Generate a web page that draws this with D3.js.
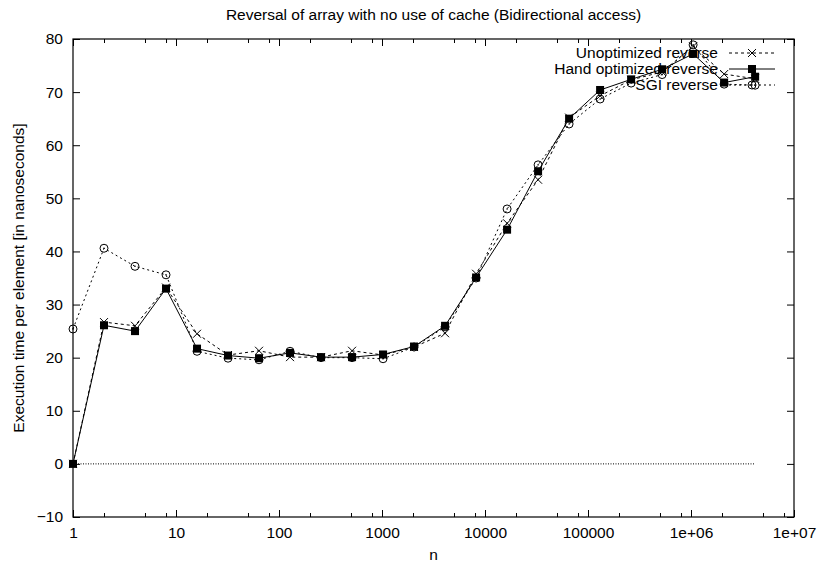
<!DOCTYPE html>
<html>
  <head>
    <title>reversal of array</title>
    <meta charset="utf-8" />
    <script src="https://d3js.org/d3.v7.min.js"></script>
    <style>
      body { margin: 0; background: #fff; }
      text { font-family: "Liberation Sans", Arial, sans-serif; font-size: 15.5px; fill: #000; }
    </style>
  </head>
  <body>
    <script>
      // n = 2^k, k = 0..22
      const exponents = d3.range(0, 23);
      const unoptimized = [0, 26.7, 26.0, 33.2, 24.5, 20.5, 21.3, 20.1, 20.1, 21.3, 20.5, 22.0, 24.6,
        35.8, 45.3, 53.5, 65.2, 69.3, 72.3, 73.8, 78.6, 73.4, 72.5];
      const handOptimized = [0, 26.1, 25.0, 33.0, 21.7, 20.4, 19.9, 20.9, 20.1, 20.1, 20.6, 22.1, 26.0,
        35.1, 44.1, 55.1, 65.0, 70.4, 72.4, 74.3, 77.2, 71.8, 72.9];
      const sgi = [25.4, 40.6, 37.2, 35.6, 21.2, 19.9, 19.6, 21.2, 20.0, 20.0, 19.8, 22.0, 25.8,
        35.0, 48.0, 56.3, 64.0, 68.7, 71.7, 73.3, 78.9, 71.5, 71.3];
      const seriesNames = ["Unoptimized reverse", "Hand optimized reverse", "SGI reverse"];
      const xTickValues = [1, 10, 100, 1000, 10000, 100000, 1e6, 1e7];
      const xTickLabels = ["1", "10", "100", "1000", "10000", "100000", "1e+06", "1e+07"];
      const yTickValues = [-10, 0, 10, 20, 30, 40, 50, 60, 70, 80];

      const width = 817, height = 567;
      const margin = { left: 73, right: 794, top: 39, bottom: 517 };

      const svg = d3.select("body").append("svg")
        .attr("width", width)
        .attr("height", height);
      svg.append("rect").attr("width", width).attr("height", height).attr("fill", "#fff");

      const x = d3.scaleLog().domain([1, 1e7]).range([margin.left, margin.right]);
      const y = d3.scaleLinear().domain([-10, 80]).range([margin.bottom, margin.top]);

      // minor tics at 2, 5, 8 of each decade (as gnuplot drew them)
      const minorX = [];
      xTickValues.slice(0, -1).forEach(d => [2, 5, 8].forEach(m => minorX.push(d * m)));

      function styleAxis(g) {
        g.select(".domain").remove();
        g.selectAll("line").attr("stroke", "#000").attr("stroke-width", 1);
        g.selectAll("text").attr("fill", "#000").attr("font-size", null).attr("font-family", null);
      }

      const fmt = d => xTickLabels[xTickValues.indexOf(d)];
      svg.append("g").attr("transform", `translate(0,${margin.bottom})`)
        .call(d3.axisBottom(x).tickValues(xTickValues).tickFormat(fmt).tickSize(-7).tickSizeOuter(0).tickPadding(10))
        .call(styleAxis);
      svg.append("g").attr("transform", `translate(0,${margin.bottom})`)
        .call(d3.axisBottom(x).tickValues(minorX).tickFormat("").tickSize(-4).tickSizeOuter(0))
        .call(styleAxis);
      svg.append("g").attr("transform", `translate(0,${margin.top})`)
        .call(d3.axisTop(x).tickValues(xTickValues).tickFormat("").tickSize(-7).tickSizeOuter(0))
        .call(styleAxis);
      svg.append("g").attr("transform", `translate(0,${margin.top})`)
        .call(d3.axisTop(x).tickValues(minorX).tickFormat("").tickSize(-4).tickSizeOuter(0))
        .call(styleAxis);
      svg.append("g").attr("transform", `translate(${margin.left},0)`)
        .call(d3.axisLeft(y).tickValues(yTickValues).tickSize(-7).tickSizeOuter(0).tickPadding(10))
        .call(styleAxis);
      svg.append("g").attr("transform", `translate(${margin.right},0)`)
        .call(d3.axisRight(y).tickValues(yTickValues).tickFormat("").tickSize(-7).tickSizeOuter(0))
        .call(styleAxis);

      svg.append("rect")
        .attr("x", margin.left).attr("y", margin.top)
        .attr("width", margin.right - margin.left).attr("height", margin.bottom - margin.top)
        .attr("fill", "none").attr("stroke", "#000").attr("stroke-width", 1.2);

      // dotted zero line over the measured range
      svg.append("line")
        .attr("x1", x(1)).attr("x2", x(2 ** 22))
        .attr("y1", y(0)).attr("y2", y(0))
        .attr("stroke", "#000").attr("stroke-width", 1)
        .attr("stroke-dasharray", "1,1.5");

      const series = [
        { name: seriesNames[0], values: unoptimized, dash: "3,3", mark: "cross" },
        { name: seriesNames[1], values: handOptimized, dash: null, mark: "square" },
        { name: seriesNames[2], values: sgi, dash: "2,3", mark: "circle" }
      ];

      const line = d3.line()
        .x((d, i) => x(2 ** exponents[i]))
        .y(d => y(d));

      function drawMark(g, kind, cx, cy) {
        if (kind === "cross") {
          g.append("path")
            .attr("d", `M${cx - 4},${cy - 4}L${cx + 4},${cy + 4}M${cx - 4},${cy + 4}L${cx + 4},${cy - 4}`)
            .attr("stroke", "#000").attr("stroke-width", 1).attr("fill", "none");
        } else if (kind === "square") {
          g.append("rect")
            .attr("x", cx - 4).attr("y", cy - 4)
            .attr("width", 8).attr("height", 8)
            .attr("fill", "#000");
        } else {
          g.append("circle").attr("cx", cx).attr("cy", cy).attr("r", 4)
            .attr("fill", "none").attr("stroke", "#000").attr("stroke-width", 1);
          g.append("circle").attr("cx", cx).attr("cy", cy).attr("r", 0.8).attr("fill", "#000");
        }
      }

      series.forEach(s => {
        const g = svg.append("g");
        g.append("path")
          .datum(s.values)
          .attr("d", line)
          .attr("fill", "none")
          .attr("stroke", "#000")
          .attr("stroke-width", 1)
          .attr("stroke-dasharray", s.dash);
        s.values.forEach((v, i) => drawMark(g, s.mark, x(2 ** exponents[i]), y(v)));
      });

      // key, top right
      series.forEach((s, i) => {
        const ly = 53 + i * 16;
        const g = svg.append("g");
        g.append("text")
          .attr("x", 718).attr("y", ly)
          .attr("text-anchor", "end")
          .attr("dy", "0.35em")
          .text(s.name);
        g.append("line")
          .attr("x1", 729).attr("x2", 775)
          .attr("y1", ly).attr("y2", ly)
          .attr("stroke", "#000").attr("stroke-width", 1)
          .attr("stroke-dasharray", s.dash);
        drawMark(g, s.mark, 752, ly);
      });

      svg.append("text")
        .attr("x", (margin.left + margin.right) / 2).attr("y", 20)
        .attr("text-anchor", "middle")
        .text("Reversal of array with no use of cache (Bidirectional access)");

      svg.append("text")
        .attr("x", (margin.left + margin.right) / 2).attr("y", 560)
        .attr("text-anchor", "middle")
        .text("n");

      svg.append("text")
        .attr("transform", `translate(24,${(margin.top + margin.bottom) / 2}) rotate(-90)`)
        .attr("text-anchor", "middle")
        .text("Execution time per element [in nanoseconds]");
    </script>
  </body>
</html>
